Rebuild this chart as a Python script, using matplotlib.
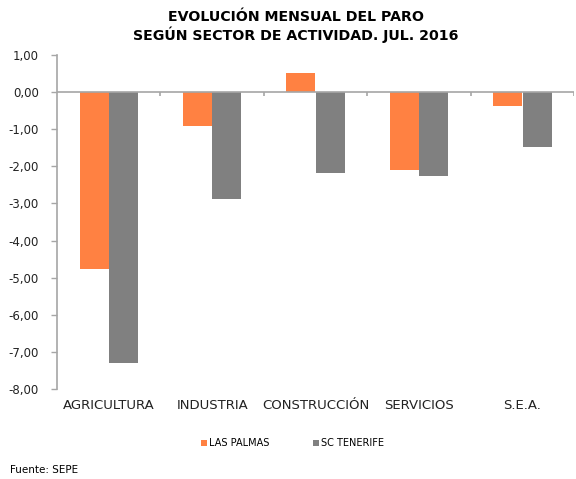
import matplotlib
matplotlib.use("Agg")
import matplotlib.pyplot as plt
import numpy as np
from matplotlib.ticker import FuncFormatter

sectores = ["AGRICULTURA", "INDUSTRIA", "CONSTRUCCIÓN", "SERVICIOS", "S.E.A."]
las_palmas = [-4.76, -0.92, 0.51, -2.11, -0.38]
sc_tenerife = [-7.30, -2.87, -2.19, -2.26, -1.49]
yticks = list(range(-8, 2))

naranja = "#FF8142"
gris = "#808080"
eje = "#A6A6A6"

fig = plt.figure(figsize=(5.76, 4.79), dpi=100)
ax = fig.add_axes([0.099, 0.188, 0.898, 0.697])

x = np.arange(len(sectores))
w = 0.28
ax.bar(x - w / 2 - 0.002, las_palmas, w, color=naranja, label="LAS PALMAS")
ax.bar(x + w / 2 + 0.002, sc_tenerife, w, color=gris, label="SC TENERIFE")

ax.set_xlim(-0.5, len(sectores) - 0.5)
ax.set_ylim(-8, 1)
ax.set_yticks(yticks)
ax.yaxis.set_major_formatter(FuncFormatter(lambda v, p: f"{v:.2f}".replace(".", ",")))

# linea del cero y marcas entre categorias
ax.axhline(0, color=eje, lw=1.2, zorder=3)
ax.vlines(np.arange(len(sectores)) + 0.5, -0.1, 0, color=eje, lw=1.2, zorder=3)

ax.set_xticks(x)
ax.set_xticklabels(sectores)
ax.tick_params(axis="x", length=0, pad=7, labelsize=9.5, colors="#222222")
ax.tick_params(axis="y", length=4, width=1, color=eje, labelsize=8.5, labelcolor="#222222", pad=9)

for s in ["top", "right", "bottom"]:
    ax.spines[s].set_visible(False)
ax.spines["left"].set_color(eje)
ax.spines["left"].set_linewidth(1.2)

fig.text(0.514, 0.945, "EVOLUCIÓN MENSUAL DEL PARO\nSEGÚN SECTOR DE ACTIVIDAD. JUL. 2016",
         ha="center", va="center", fontsize=10.2, fontweight="bold", linespacing=1.2)

fig.legend(loc="center", bbox_to_anchor=(0.508, 0.075), ncol=2, frameon=False,
           fontsize=7, handlelength=0.6, handleheight=0.6, handletextpad=0.2,
           columnspacing=4.5)

fig.text(0.018, 0.018, "Fuente: SEPE", fontsize=7.5, ha="left", va="center")

fig.savefig("out.png", dpi=100)
